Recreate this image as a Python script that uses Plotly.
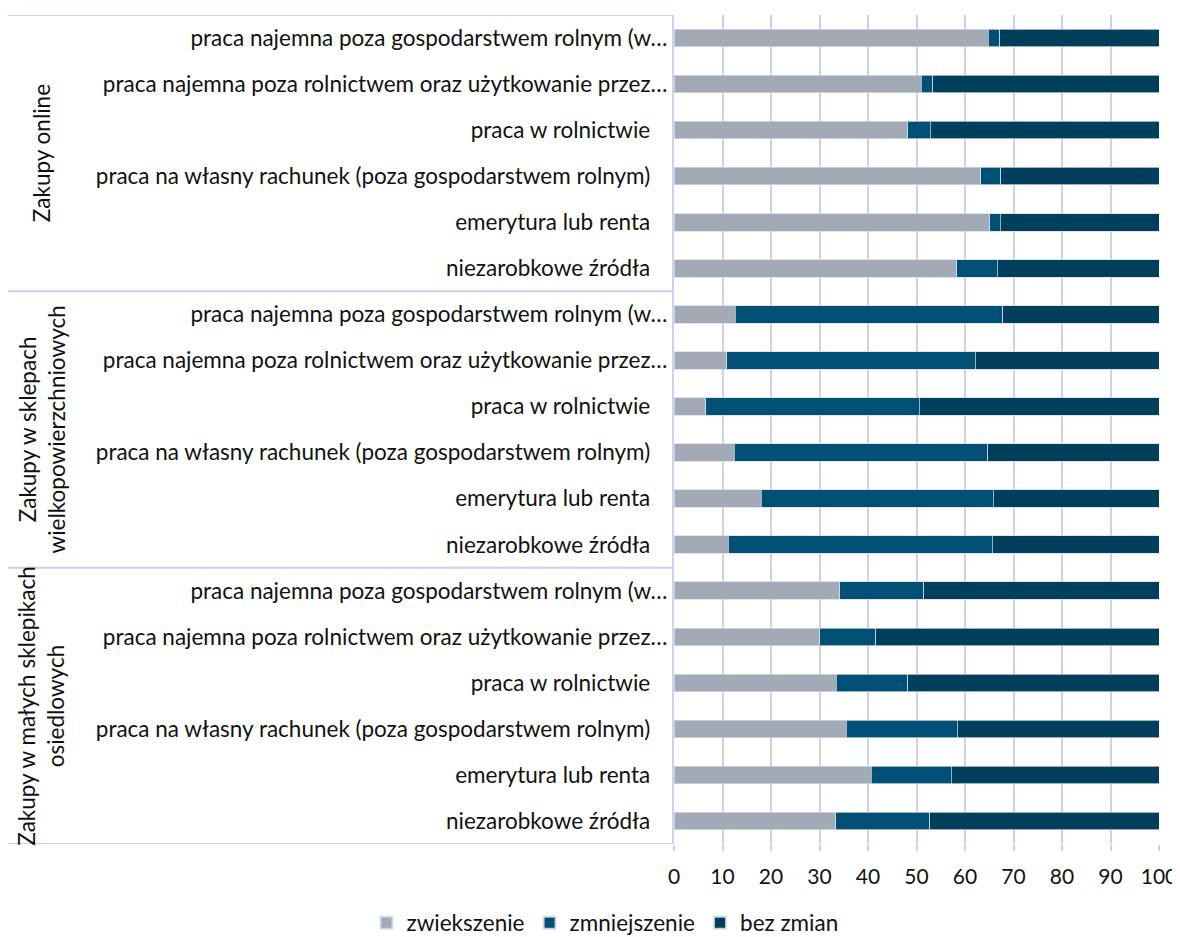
import plotly.graph_objects as go

# ---- data (top to bottom) ----
groups = ["Zakupy online",
          "Zakupy w sklepach<br>wielkopowierzchniowych",
          "Zakupy w małych sklepikach<br>osiedlowych"]
sources = [
    "praca najemna poza gospodarstwem rolnym (w…",
    "praca najemna poza rolnictwem oraz użytkowanie przez…",
    "praca w rolnictwie",
    "praca na własny rachunek (poza gospodarstwem rolnym)",
    "emerytura lub renta",
    "niezarobkowe źródła",
]
series_names = ["zwiekszenie", "zmniejszenie", "bez zmian"]
zwiekszenie = [64.8, 51.0, 48.2, 63.2, 65.1, 58.3,
               12.6, 10.9, 6.5, 12.4, 18.0, 11.2,
               34.2, 30.1, 33.5, 35.5, 40.7, 33.3]
zmniejszenie = [2.4, 2.3, 4.6, 4.2, 2.2, 8.3,
                55.2, 51.2, 44.1, 52.3, 47.8, 54.4,
                17.3, 11.5, 14.7, 22.9, 16.5, 19.4]
bez_zmian = [32.8, 46.7, 47.2, 32.6, 32.7, 33.4,
             32.2, 37.9, 49.4, 35.3, 34.2, 34.4,
             48.5, 58.4, 51.8, 41.6, 42.8, 47.3]
x_ticks = [0, 10, 20, 30, 40, 50, 60, 70, 80, 90, 100]

colors = ["#A1AAB5", "#004F74", "#003F5C"]
grid_c = "#D2CEEE"
FONT = "Lato"
FS = 22.5

OFF = 8  # page body margin
PL, PR, PT, PB = 674, 1159, 15, 844  # plot area in page pixels
W, H = 1180 - OFF, 937 - OFF
PW = PR - PL
PH = PB - PT

n_src = len(sources)
rows = list(range(len(groups) * n_src))
labels = []
for g in groups:
    for s in sources:
        labels.append(s if s.endswith("…") else s + "\u00a0\u00a0\u00a0")

fig = go.Figure()
for name, vals, col in zip(series_names, [zwiekszenie, zmniejszenie, bez_zmian], colors):
    fig.add_trace(go.Bar(
        y=rows, x=vals, name=name, orientation="h",
        marker=dict(color=col, line=dict(color="rgba(210,220,235,0.9)", width=0.8)),
        width=0.38,
    ))

shapes = []
for k in range(len(groups) + 1):
    yv = k * n_src - 0.5
    shapes.append(dict(type="line", xref="paper", yref="y",
                       x0=(7 - PL) / PW, x1=0, y0=yv, y1=yv,
                       line=dict(color=grid_c, width=2)))

annotations = []
for k, g in enumerate(groups):
    annotations.append(dict(
        text=g, xref="paper", yref="y",
        x=(41 - PL) / PW, y=k * n_src + (n_src - 1) / 2,
        showarrow=False, textangle=-90, xanchor="center", yanchor="middle",
        font=dict(family=FONT, size=FS, color="#111"),
    ))

fig.update_layout(
    barmode="stack",
    width=W, height=H, autosize=False,
    margin=dict(l=PL - OFF, r=W - (PR - OFF), t=PT - OFF, b=H - (PB - OFF), autoexpand=False),
    paper_bgcolor="white", plot_bgcolor="white",
    font=dict(family=FONT, size=FS, color="#111"),
    shapes=shapes,
    annotations=annotations,
    legend=dict(orientation="h", x=(605 - PL) / PW, xanchor="center",
                y=(PB - 923) / PH, yanchor="middle",
                font=dict(family=FONT, size=FS, color="#111"),
                traceorder="normal", itemsizing="constant"),
    xaxis=dict(range=[0, 100], tickvals=x_ticks, showgrid=True, gridcolor=grid_c,
               gridwidth=2, zeroline=False, showline=False, automargin=False,
               ticks="outside", ticklen=6, tickcolor=grid_c, tickwidth=2,
               ticklabelstandoff=8,
               tickfont=dict(family=FONT, size=21, color="#111")),
    yaxis=dict(range=[len(rows) - 0.5, -0.5], tickvals=rows, ticktext=labels,
               showgrid=False, zeroline=False, showline=True, linecolor=grid_c,
               linewidth=2, ticks="", automargin=False,
               tickfont=dict(family=FONT, size=FS, color="#111")),
)

fig.write_html("out.html")
